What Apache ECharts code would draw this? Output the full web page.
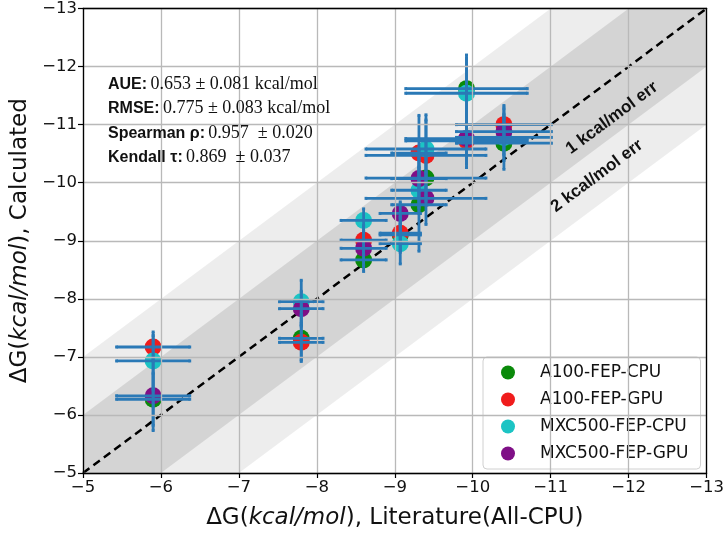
<!DOCTYPE html>
<html><head><meta charset="utf-8">
<script src="https://cdn.jsdelivr.net/npm/echarts@6/dist/echarts.min.js"></script>
<style>html,body{margin:0;padding:0;background:#fff}#c{width:727px;height:537px}</style>
</head><body><div id="c"></div>
<script>
// ---- data ----
const seriesNames = ['A100-FEP-CPU', 'A100-FEP-GPU', 'MXC500-FEP-CPU', 'MXC500-FEP-GPU'];
const seriesColors = ['#0a8a0a', '#f01c1c', '#1cc4c4', '#7f0f86'];
const literature = [-5.9, -7.8, -8.6, -9.07, -9.31, -9.40, -9.92, -10.40];
const literatureErr = [0.47, 0.28, 0.29, 0.26, 0.35, 0.77, 0.78, 0.61];
const a100Cpu = [-6.27, -7.32, -8.67, -9.10, -9.62, -10.08, -11.62, -10.68];
const a100Gpu = [-7.17, -7.25, -9.01, -9.13, -10.51, -10.47, -10.72, -11.00];
const mxcCpu = [-6.93, -7.95, -9.35, -8.95, -9.87, -10.58, -11.54, -10.78];
const mxcGpu = [-6.33, -7.83, -8.87, -9.47, -10.07, -9.73, -10.76, -10.88];
const a100CpuErr = [0.45, 0.40, 0.20, 0.30, 0.80, 0.40, 0.58, 0.45];
const a100GpuErr = [0.20, 0.30, 0.25, 0.30, 0.65, 0.70, 0.40, 0.33];
const mxcCpuErr = [0.50, 0.37, 0.20, 0.35, 0.40, 0.50, 0.60, 0.40];
const mxcGpuErr = [0.60, 0.30, 0.30, 0.20, 0.50, 0.45, 0.50, 0.40];
const axisMin = -13, axisMax = -5;
const bandWidths = [2, 1];
const statsLines = [
  ['AUE:', '0.653 ± 0.081 kcal/mol'],
  ['RMSE:', '0.775 ± 0.083 kcal/mol'],
  ['Spearman ρ:', '0.957  ± 0.020'],
  ['Kendall τ:', '0.869  ± 0.037']
];
const bandLabels = ['1 kcal/mol err', '2 kcal/mol err'];

const calc = [a100Cpu, a100Gpu, mxcCpu, mxcGpu];
const calcErr = [a100CpuErr, a100GpuErr, mxcCpuErr, mxcGpuErr];

const chart = echarts.init(document.getElementById('c'));
const fmt = v => String(v).replace('-', '\u2212');

function bandSeries(w, color) {
  return {
    type: 'custom', silent: true, clip: true, z: 1,
    data: [[w]],
    renderItem: function (params, api) {
      const x0 = axisMax + 1, x1 = axisMin - 1;
      const pts = [[x0, x0 + w], [x1, x1 + w], [x1, x1 - w], [x0, x0 - w]].map(p => api.coord(p));
      return { type: 'polygon', shape: { points: pts }, style: { fill: color } };
    }
  };
}

const series = [
  bandSeries(bandWidths[0], 'rgba(0,0,0,0.072)'),
  bandSeries(bandWidths[1], 'rgba(0,0,0,0.1)'),
  {
    type: 'line', silent: true, z: 3, symbol: 'none',
    data: [[axisMax, axisMax], [axisMin, axisMin]],
    lineStyle: { color: '#000', width: 2.5, type: [8, 5] }
  }
];
calc.forEach((vals, s) => {
  series.push({
    name: seriesNames[s], type: 'scatter', z: 4,
    symbolSize: 17,
    itemStyle: { color: seriesColors[s], opacity: 1 },
    data: vals.map((v, i) => [literature[i], v])
  });
});
calc.forEach((vals, s) => {
  series.push({
    type: 'custom', z: 5, silent: true,
    data: vals.map((v, i) => [literature[i], v, literatureErr[i], calcErr[s][i]]),
    renderItem: function (params, api) {
      const x = api.value(0), y = api.value(1), xe = api.value(2), ye = api.value(3);
      const l = api.coord([x - xe, y]), r = api.coord([x + xe, y]);
      const t = api.coord([x, y - ye]), b = api.coord([x, y + ye]);
      const st = { stroke: '#2a79b6', lineWidth: 2.8 };
      const c = 1.5;
      return { type: 'group', children: [
        { type: 'line', shape: { x1: l[0], y1: l[1], x2: r[0], y2: r[1] }, style: st },
        { type: 'line', shape: { x1: t[0], y1: t[1], x2: b[0], y2: b[1] }, style: st },
        { type: 'line', shape: { x1: l[0], y1: l[1] - c, x2: l[0], y2: l[1] + c }, style: st },
        { type: 'line', shape: { x1: r[0], y1: r[1] - c, x2: r[0], y2: r[1] + c }, style: st },
        { type: 'line', shape: { x1: t[0] - c, y1: t[1], x2: t[0] + c, y2: t[1] }, style: st },
        { type: 'line', shape: { x1: b[0] - c, y1: b[1], x2: b[0] + c, y2: b[1] }, style: st }
      ]};
    }
  });
});

function axisCommon(extra) {
  return Object.assign({
    type: 'value', min: axisMin, max: axisMax, interval: 1, inverse: true, z: 10,
    axisLine: { show: true, onZero: false, lineStyle: { color: '#000', width: 1.3 } },
    axisTick: { show: true, inside: false, length: 5, lineStyle: { color: '#000', width: 1.2 } },
    splitLine: { show: true, lineStyle: { color: '#b9b9b9', width: 1.3 } },
    axisLabel: { color: '#111', fontSize: 16.5, fontFamily: 'DejaVu Sans', formatter: fmt, margin: 6 }
  }, extra);
}

const statsText = statsLines.map(l => '{b|' + l[0] + '} {n|' + l[1] + '}').join('\n');
const nameStyle = { fontSize: 23, fontFamily: 'DejaVu Sans', color: '#111',
  rich: { i: { fontSize: 23, fontFamily: 'DejaVu Sans', fontStyle: 'italic', color: '#111' } } };

chart.setOption({
  animation: false,
  backgroundColor: '#fff',
  grid: { left: 83, right: 19, top: 8, bottom: 64 },
  xAxis: [
    axisCommon({
      name: 'ΔG({i|kcal/mol}), Literature(All-CPU)', nameLocation: 'middle', nameGap: 34,
      nameTextStyle: nameStyle
    }),
    axisCommon({ position: 'top', axisTick: { show: false }, axisLabel: { show: false }, splitLine: { show: false } })
  ],
  yAxis: [
    axisCommon({
      name: 'ΔG({i|kcal/mol}), Calculated', nameLocation: 'middle', nameGap: 48,
      nameTextStyle: nameStyle
    }),
    axisCommon({ position: 'right', axisTick: { show: false }, axisLabel: { show: false }, splitLine: { show: false } })
  ],
  legend: {
    orient: 'vertical', left: 483, top: 357,
    padding: [7, 12, 7, 18], itemGap: 10, itemWidth: 14, itemHeight: 14,
    backgroundColor: 'rgba(255,255,255,0.85)', borderColor: '#d0d0d0', borderWidth: 1, borderRadius: 4,
    data: seriesNames.map(n => ({ name: n, icon: 'circle' })),
    textStyle: { fontSize: 17, fontFamily: 'DejaVu Sans', color: '#111', padding: [0, 0, 0, 20], lineHeight: 14 }
  },
  graphic: [
    {
      type: 'text', left: 108, top: 72, z: 20,
      style: {
        text: statsText, lineHeight: 24.5,
        rich: {
          b: { fontFamily: 'Liberation Sans', fontWeight: 'bold', fontSize: 16, fill: '#111', lineHeight: 24.5 },
          n: { fontFamily: 'Liberation Serif', fontSize: 18, fill: '#111', lineHeight: 24.5 }
        }
      }
    },
    {
      type: 'text', x: 612, y: 118, rotation: 0.64, z: 20,
      style: { text: bandLabels[0], fontFamily: 'Liberation Sans', fontWeight: 'bold', fontSize: 17, fill: '#111', align: 'center', verticalAlign: 'middle' }
    },
    {
      type: 'text', x: 597, y: 176, rotation: 0.64, z: 20,
      style: { text: bandLabels[1], fontFamily: 'Liberation Sans', fontWeight: 'bold', fontSize: 17, fill: '#111', align: 'center', verticalAlign: 'middle' }
    }
  ],
  series: series
});
</script></body></html>
